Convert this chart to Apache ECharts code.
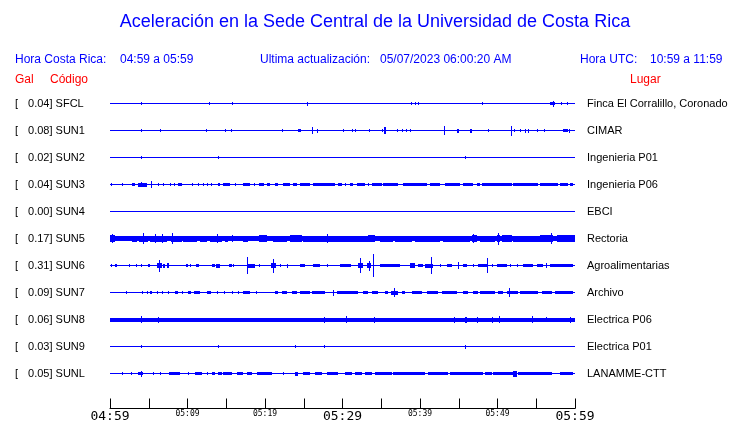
<!DOCTYPE html>
<html>
<head>
<meta charset="utf-8">
<script src="https://cdn.jsdelivr.net/npm/echarts@6/dist/echarts.min.js"></script>
<style>html,body{margin:0;padding:0;background:#fff}#c{width:740px;height:423px}</style>
</head>
<body>
<div id="c"></div>
<script>
// ---- data ----
const codes = ['SFCL','SUN1','SUN2','SUN3','SUN4','SUN5','SUN6','SUN7','SUN8','SUN9','SUNL'];
const galValues = [0.04,0.08,0.02,0.04,0.00,0.17,0.31,0.09,0.06,0.03,0.05];
const places = ['Finca El Corralillo, Coronado','CIMAR','Ingenieria P01','Ingenieria P06','EBCI','Rectoria','Agroalimentarias','Archivo','Electrica P06','Electrica P01','LANAMME-CTT'];
const tickMinutes = [0,10,20,30,40,50,60];
const tickLabels = ['04:59','05:09','05:19','05:29','05:39','05:49','05:59'];
const majorLabels = ['04:59','05:29','05:59'];
const durationMin = 60;
// continuous background amplitude of each trace (1/27 of trace spacing)
const baseAmp = [0,0,0,0,0,2,0,0,1.5,0,0];
// events: [start minute, end minute, half amplitude (1/27 of trace spacing)]
const sfclEvents = [[4.0,4.0,1.3],[12.8,12.8,1.3],[15.8,15.8,1],[25.4,25.5,1.5],[38.9,38.9,1.3],[39.3,39.3,1.3],[39.7,39.8,1.3],[48.0,48.0,1.3],[56.8,57.4,1.3],[57.1,57.1,2.5],[58.2,58.2,1.3],[59.0,59.1,1.3]];
const sun1Events = [[4.0,4.0,1.3],[6.45,6.45,1],[12.39,12.39,1.3],[14.84,14.84,1.3],[15.65,15.65,1.3],[22.23,22.23,1.3],[24.22,24.22,1.3],[24.45,24.65,1.2],[26.0,26.1,3],[26.71,26.71,1.5],[30.1,30.1,1.3],[31.19,31.19,1.3],[31.65,31.65,1.3],[33.46,33.46,1.3],[35.14,35.14,1.3],[35.4,35.55,3],[36.99,36.99,1.3],[37.64,37.64,1.3],[38.15,38.15,1.3],[38.75,38.75,1.3],[43.1,43.1,4],[44.8,45.05,1.5],[46.45,46.75,1.5],[48.81,48.81,1],[51.74,51.74,4.5],[52.17,52.17,1.3],[52.9,52.9,1.3],[53.55,53.55,1.5],[53.9,53.9,1.5],[55.06,55.06,1.3],[56.0,56.1,1.3],[58.5,59.06,1.3],[59.26,59.26,1.5]];
const sun2Events = [[4.0,4.0,1.3],[13.98,13.98,1],[45.75,45.85,1.3]];
const sun3Events = [[0.13,0.13,1.3],[1.59,1.59,1],[2.8,3.23,1.2],[3.66,4.73,1.5],[4.0,4.0,2],[5.29,5.29,3],[6.24,6.24,1.3],[6.88,6.88,1.3],[7.74,7.74,1.3],[8.3,8.3,1.3],[8.82,9.25,1.2],[10.54,10.54,1.3],[11.31,11.31,1.3],[12.04,12.04,1.3],[12.47,12.47,1.3],[13.03,13.03,1.3],[13.89,14.19,1.2],[14.62,15.48,1.2],[16.13,16.13,1.3],[17.2,18.06,1.2],[18.62,18.62,1.3],[19.23,19.91,1.2],[20.21,20.64,1.2],[21.29,21.72,1.2],[22.37,23.22,1.2],[23.65,24.08,1.2],[24.52,25.81,1.2],[26.24,29.03,1.2],[29.46,29.89,1.2],[30.32,30.32,1.3],[30.97,31.4,1.2],[31.83,32.9,1.2],[33.33,33.33,1.3],[33.76,35.05,1.2],[35.27,37.2,1.2],[37.85,40.86,1.2],[41.29,42.58,1.2],[43.22,45.16,1.2],[45.59,46.88,1.2],[47.31,47.74,1.2],[47.95,51.83,1.2],[52.04,55.27,1.2],[55.48,57.85,1.2],[58.06,59.14,1.2],[59.35,59.78,1.2]];
const sun4Events = [];
const sun5Events = [[0,0.65,3],[0.2,0.3,4],[2.8,3.45,2.5],[3.74,4.9,2.5],[4.3,4.4,5],[5.16,7.32,2.5],[5.8,5.85,4],[6.67,6.72,4],[7.87,9.25,2.5],[8.04,8.1,5],[9.42,11.19,2.5],[11.61,12.48,2.5],[12.9,14.41,2.5],[13.85,13.9,4],[14.84,15.23,2.5],[15.7,15.75,3],[17.2,17.85,2.5],[19.26,20.22,3],[21.07,22.8,2.5],[23.23,24.73,3],[24.9,28.39,2.5],[27.96,28.0,4],[28.39,29.68,2.5],[29.68,34.19,2.5],[33.29,34.19,3],[34.84,36.52,2.5],[36.77,38.93,2.5],[39.35,42.58,2.5],[42.97,46.45,2.5],[46.67,47.32,3],[46.9,46.95,4],[47.74,49.68,2.5],[49.9,50.32,3],[50.05,50.1,5.5],[50.54,51.83,3],[52.0,55.48,2.5],[55.48,57.16,3],[56.86,56.9,5],[57.64,60,3]];
const sun6Events = [[0.13,0.13,1],[0.65,0.94,1.2],[2.49,2.49,1],[3.35,3.35,1],[3.96,3.96,1],[4.94,5.16,1.2],[6.1,6.67,2],[6.3,6.35,5.5],[6.84,7.1,1.5],[7.32,7.61,2],[9.81,10.06,1.2],[10.32,10.32,1],[11.1,11.52,1.2],[13.12,13.55,1],[13.68,14.19,1.5],[15.39,15.7,1.2],[15.91,15.91,1],[17.64,17.64,8],[17.85,18.71,1.5],[19.26,19.26,1],[20.74,21.42,2],[21.03,21.08,6.5],[21.94,21.94,1],[22.8,22.8,1.5],[24.52,25.16,1],[26.23,27.1,1.2],[27.96,27.96,1],[29.68,31.1,1],[32.04,32.68,2],[32.26,32.3,7],[33.12,33.64,2],[33.38,33.42,4.5],[33.97,33.97,11],[34.84,37.42,1],[38.71,39.35,2],[39.78,40.35,1],[40.65,41.64,1.5],[41.38,41.38,8],[42.58,42.58,1],[43.45,44.09,1],[44.94,44.94,3],[45.59,46.03,1],[46.88,46.88,1],[47.52,48.81,1.2],[48.68,48.68,7],[49.25,49.25,1],[49.9,51.19,1.2],[51.61,51.61,1],[52.48,52.48,1],[53.33,54.62,1.2],[55.06,55.91,1],[56.26,56.26,2],[56.77,59.78,1]];
const sun7Events = [[2.02,2.02,1.3],[4.09,4.09,1.3],[4.73,4.73,1.3],[5.16,5.38,1.2],[6.02,6.24,1.2],[6.75,6.75,1.3],[7.44,7.61,1.2],[8.39,8.82,1.2],[9.25,9.25,1.3],[10.02,10.45,1.2],[10.88,11.61,1.2],[12.47,13.03,1.2],[13.76,13.98,1.2],[14.75,14.75,1.3],[15.79,15.79,1],[16.56,16.56,1.3],[17.2,18.06,1.2],[18.8,18.8,1.3],[21.29,21.63,1.2],[22.24,22.8,1.2],[23.44,24.08,1.2],[24.52,25.81,1.2],[26.11,27.74,1.2],[28.82,28.82,2.5],[29.25,32.04,1.2],[32.69,33.33,1.2],[33.76,34.62,1.2],[35.48,35.91,1.3],[36.26,37.2,1.5],[36.69,36.75,4],[37.63,38.06,1.2],[38.92,40.21,1.2],[40.86,42.36,1.2],[42.79,44.73,1.2],[45.59,46.24,1.2],[46.88,47.53,1.2],[47.74,49.68,1.2],[50.11,50.75,1.2],[51.18,52.69,1.3],[51.48,51.48,4],[52.9,55.27,1.2],[55.7,56.99,1.2],[57.42,59.78,1.2]];
const sun8Events = [[4.0,4.0,2.8],[6.24,6.24,2.5],[27.66,27.66,2.5],[30.41,30.41,2.8],[34.11,34.11,2.5],[44.43,44.43,2.5],[45.8,46.1,2.5],[47.3,47.3,2.5],[49.25,49.25,2.5],[50.24,50.24,3],[54.49,54.49,2.8],[56.3,56.3,2.3],[59.35,59.35,2.5]];
const sun9Events = [[4.0,4.0,1.3],[13.98,13.98,1.3],[23.87,23.87,1.3],[27.66,27.66,1.3],[45.8,45.8,1.5]];
const sunlEvents = [[1.59,1.59,1.3],[2.71,2.71,1.3],[3.57,4.3,1.2],[4.0,4.0,2.5],[5.59,5.59,1.3],[6.45,6.45,1.3],[7.61,9.03,1.2],[10.11,10.11,1.3],[10.97,11.83,1.2],[12.47,12.47,1.3],[13.12,13.55,1.2],[13.98,14.41,1.2],[14.62,15.7,1.2],[16.34,17.2,1.2],[17.63,18.28,1.2],[18.92,20.86,1.2],[22.37,22.37,1.3],[23.87,24.3,1.5],[24.95,25.81,1.2],[26.45,27.31,1.2],[27.96,29.46,1.2],[30.32,31.18,1.2],[31.61,32.47,1.2],[32.9,33.76,1.2],[34.19,36.34,1.2],[36.56,40.64,1.2],[41.07,43.66,1.2],[43.87,48.17,1.2],[48.39,49.25,1.2],[49.46,52.04,1.2],[52.04,52.47,2.5],[52.69,56.99,1.2],[58.06,59.78,1.2]];
const traces = [sfclEvents,sun1Events,sun2Events,sun3Events,sun4Events,sun5Events,sun6Events,sun7Events,sun8Events,sun9Events,sunlEvents];
const ROW_SPAN = 27; // amplitude units per trace spacing

// ---- build series data ----
const traceData = [];
codes.forEach((c, i) => {
  traceData.push([0, durationMin, i, 0]);
  if (baseAmp[i] > 0) traceData.push([0, durationMin, i, baseAmp[i]]);
  traces[i].forEach(e => traceData.push([e[0], e[1], i, e[2]]));
});

const BLUE = '#0000ff', RED = '#ff0000';
const chart = echarts.init(document.getElementById('c'), null, {renderer: 'canvas'});
const option = {
  animation: false,
  backgroundColor: '#ffffff',
  grid: [
    {left: 110, top: 90, width: 465, height: 297},
    {left: 110, top: 399, width: 465, height: 10}
  ],
  xAxis: [
    {gridIndex: 0, type: 'value', min: 0, max: durationMin, show: false},
    {gridIndex: 1, type: 'value', min: 0, max: durationMin, interval: 5, position: 'bottom',
     axisLine: {show: true, onZero: false, lineStyle: {color: '#000', width: 1}},
     axisTick: {show: true, inside: true, length: 10, lineStyle: {color: '#000', width: 1}},
     splitLine: {show: false},
     axisLabel: {show: true, margin: 1, showMinLabel: true, showMaxLabel: true,
       formatter: function (v) {
         const k = tickMinutes.indexOf(v);
         if (k < 0) return '';
         const lbl = tickLabels[k];
         return majorLabels.indexOf(lbl) >= 0 ? '{big|' + lbl + '}' : '{small|' + lbl + '}';
       },
       rich: {
         big: {fontFamily: 'DejaVu Sans Mono', fontSize: 13, color: '#000', lineHeight: 14},
         small: {fontFamily: 'DejaVu Sans Mono', fontSize: 8, color: '#000', lineHeight: 8}
       }
     }}
  ],
  yAxis: [
    {gridIndex: 0, type: 'value', min: -0.5, max: codes.length - 0.5, inverse: true, show: false},
    {gridIndex: 0, type: 'category', data: codes, inverse: true, position: 'left',
     axisLine: {show: false}, axisTick: {show: false}, splitLine: {show: false},
     axisLabel: {align: 'left', margin: 95, interval: 0,
       formatter: function (v, idx) {
         return '{b|[}{v|' + galValues[idx].toFixed(2) + '] ' + v + '}';
       },
       rich: {
         b: {fontFamily: 'Liberation Sans', fontSize: 11, color: '#000', lineHeight: 13, padding: [0, 10, 0, 0]},
         v: {fontFamily: 'Liberation Sans', fontSize: 11, color: '#000', lineHeight: 13}
       }
     }},
    {gridIndex: 0, type: 'category', data: places, inverse: true, position: 'right',
     axisLine: {show: false}, axisTick: {show: false}, splitLine: {show: false},
     axisLabel: {align: 'left', margin: 12, interval: 0, fontFamily: 'Liberation Sans', fontSize: 11, color: '#000'}},
    {gridIndex: 1, type: 'value', min: 0, max: 1, show: false}
  ],
  graphic: [
    {type: 'text', x: 375, y: 22, style: {text: 'Aceleración en la Sede Central de la Universidad de Costa Rica', fill: BLUE, font: '18px "Liberation Sans"', textAlign: 'center', textVerticalAlign: 'middle'}},
    {type: 'text', x: 15, y: 60, style: {text: 'Hora Costa Rica:', fill: BLUE, font: '12px "Liberation Sans"', textVerticalAlign: 'middle'}},
    {type: 'text', x: 120, y: 60, style: {text: '04:59 a 05:59', fill: BLUE, font: '12px "Liberation Sans"', textVerticalAlign: 'middle'}},
    {type: 'text', x: 260, y: 60, style: {text: 'Ultima actualización:', fill: BLUE, font: '12px "Liberation Sans"', textVerticalAlign: 'middle'}},
    {type: 'text', x: 380, y: 60, style: {text: '05/07/2023 06:00:20 AM', fill: BLUE, font: '12px "Liberation Sans"', textVerticalAlign: 'middle'}},
    {type: 'text', x: 580, y: 60, style: {text: 'Hora UTC:', fill: BLUE, font: '12px "Liberation Sans"', textVerticalAlign: 'middle'}},
    {type: 'text', x: 650, y: 60, style: {text: '10:59 a 11:59', fill: BLUE, font: '12px "Liberation Sans"', textVerticalAlign: 'middle'}},
    {type: 'text', x: 15, y: 80, style: {text: 'Gal', fill: RED, font: '12px "Liberation Sans"', textVerticalAlign: 'middle'}},
    {type: 'text', x: 50, y: 80, style: {text: 'Código', fill: RED, font: '12px "Liberation Sans"', textVerticalAlign: 'middle'}},
    {type: 'text', x: 630, y: 80, style: {text: 'Lugar', fill: RED, font: '12px "Liberation Sans"', textVerticalAlign: 'middle'}}
  ],
  series: [{
    type: 'custom',
    xAxisIndex: 0, yAxisIndex: 0,
    data: traceData,
    encode: {x: [0, 1], y: 2},
    clip: false,
    silent: true,
    renderItem: function (params, api) {
      const t0 = api.value(0), t1 = api.value(1), row = api.value(2), amp = api.value(3);
      const p0 = api.coord([t0, row]);
      const p1 = api.coord([t1, row]);
      const unit = api.size([0, 1])[1] / ROW_SPAN;
      const h = amp * unit;
      const cy = Math.floor(p0[1]);
      const x0 = Math.round(p0[0]);
      let x1 = Math.round(p1[0]);
      if (x1 <= x0) x1 = x0 + 1;
      const y0 = Math.round(cy - h), y1 = Math.round(cy + 1 + h);
      return {type: 'rect', shape: {x: x0, y: y0, width: x1 - x0, height: y1 - y0}, style: {fill: BLUE}};
    }
  }]
};
chart.setOption(option);
</script>
</body>
</html>
